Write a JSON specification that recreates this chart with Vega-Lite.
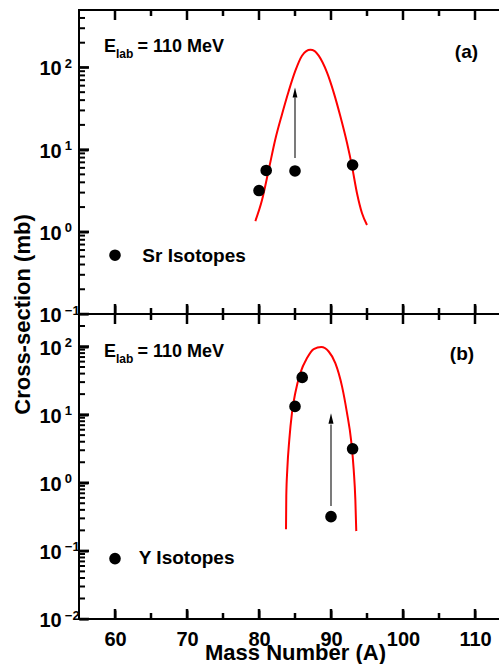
{
  "$schema": "https://vega.github.io/schema/vega-lite/v6.json",
  "padding": {"left": 10, "top": 9, "right": 0, "bottom": 0},
  "spacing": 0,
  "bounds": "flush",
  "config": {
    "font": "Liberation Sans",
    "view": {"stroke": "black", "strokeWidth": 2},
    "axis": {
      "labelFont": "Liberation Sans", "labelFontWeight": "bold", "labelColor": "black", "labelFontSize": 20,
      "titleFont": "Liberation Sans", "titleFontWeight": "bold", "titleColor": "black", "titleFontSize": 22,
      "tickColor": "#000000", "tickWidth": 2, "domain": false, "grid": false,
      "labelOverlap": false, "labelFlush": false
    }
  },
  "datasets": {
    "xMaj": [{"A": 60}, {"A": 70}, {"A": 80}, {"A": 90}, {"A": 100}, {"A": 110}],
    "xMin": [{"A": 65}, {"A": 75}, {"A": 85}, {"A": 95}, {"A": 105}],
    "topMaj": [{"s": 0.1}, {"s": 1}, {"s": 10}, {"s": 100}],
    "topMin": [{"s": 0.2}, {"s": 0.3}, {"s": 0.4}, {"s": 0.5}, {"s": 0.6}, {"s": 0.7}, {"s": 0.8}, {"s": 0.9},
               {"s": 2}, {"s": 3}, {"s": 4}, {"s": 5}, {"s": 6}, {"s": 7}, {"s": 8}, {"s": 9},
               {"s": 20}, {"s": 30}, {"s": 40}, {"s": 50}, {"s": 60}, {"s": 70}, {"s": 80}, {"s": 90},
               {"s": 200}, {"s": 300}, {"s": 400}],
    "botMaj": [{"s": 0.01}, {"s": 0.1}, {"s": 1}, {"s": 10}, {"s": 100}],
    "botMin": [{"s": 0.02}, {"s": 0.03}, {"s": 0.04}, {"s": 0.05}, {"s": 0.06}, {"s": 0.07}, {"s": 0.08}, {"s": 0.09},
               {"s": 0.2}, {"s": 0.3}, {"s": 0.4}, {"s": 0.5}, {"s": 0.6}, {"s": 0.7}, {"s": 0.8}, {"s": 0.9},
               {"s": 2}, {"s": 3}, {"s": 4}, {"s": 5}, {"s": 6}, {"s": 7}, {"s": 8}, {"s": 9},
               {"s": 20}, {"s": 30}, {"s": 40}, {"s": 50}, {"s": 60}, {"s": 70}, {"s": 80}, {"s": 90},
               {"s": 200}],
    "srCurve": [
      {"A": 79.49, "s": 1.35}, {"A": 80.42, "s": 2.44}, {"A": 81.35, "s": 5.69}, {"A": 82.26, "s": 13.3},
      {"A": 83.19, "s": 26.8}, {"A": 84.13, "s": 51.7}, {"A": 85.04, "s": 90.8}, {"A": 85.97, "s": 139},
      {"A": 86.57, "s": 158}, {"A": 87.13, "s": 164}, {"A": 87.74, "s": 158}, {"A": 88.29, "s": 139},
      {"A": 89.44, "s": 86.9}, {"A": 90.38, "s": 49.4}, {"A": 91.29, "s": 25.6}, {"A": 92.22, "s": 12.1},
      {"A": 92.92, "s": 6.25}, {"A": 93.61, "s": 2.95}, {"A": 94.31, "s": 1.68}, {"A": 95.0, "s": 1.21}
    ],
    "srPoints": [{"A": 80, "s": 3.18}, {"A": 81, "s": 5.58}, {"A": 85, "s": 5.5}, {"A": 93, "s": 6.5}],
    "srArrow": [{"A": 85, "s1": 7.9, "s2": 43, "head": 49.4}],
    "srElab": [{"A": 58.47, "s": 152.7, "e": "E", "sub": "lab", "rest": "= 110 MeV"}],
    "srLabels": [{"A": 107.2, "s": 130, "label": "(a)"}, {"A": 63.8, "s": 0.429, "label": "Sr Isotopes"}],
    "srLegend": [{"A": 60, "s": 0.519}],
    "yCurve": [
      {"A": 83.75, "s": 0.207}, {"A": 83.79, "s": 0.637}, {"A": 83.93, "s": 1.57}, {"A": 84.21, "s": 4.3},
      {"A": 84.58, "s": 10.6}, {"A": 85.04, "s": 20.8}, {"A": 85.74, "s": 40.8}, {"A": 86.67, "s": 67.6},
      {"A": 87.6, "s": 91.6}, {"A": 88.65, "s": 98}, {"A": 89.68, "s": 84.5}, {"A": 90.6, "s": 57.1},
      {"A": 91.53, "s": 26}, {"A": 92.22, "s": 10.6}, {"A": 92.78, "s": 4.3}, {"A": 93.15, "s": 1.57},
      {"A": 93.38, "s": 0.57}, {"A": 93.51, "s": 0.195}
    ],
    "yPoints": [{"A": 85, "s": 13.2}, {"A": 86, "s": 35.2}, {"A": 93, "s": 3.15}, {"A": 90, "s": 0.318}],
    "yArrow": [{"A": 90, "s1": 0.454, "s2": 7.14, "head": 8.74}],
    "yElab": [{"A": 58.47, "s": 70, "e": "E", "sub": "lab", "rest": "= 110 MeV"}],
    "yLabels": [{"A": 106.5, "s": 63.9, "label": "(b)"}, {"A": 63.3, "s": 0.0637, "label": "Y Isotopes"}],
    "yLegend": [{"A": 60, "s": 0.077}]
  },
  "vconcat": [
    {
      "width": 432, "height": 304,
      "resolve": {"axis": {"x": "independent", "y": "independent"}},
      "layer": [
        {"data": {"name": "xMaj"}, "mark": {"type": "tick", "orient": "vertical", "size": 10, "thickness": 2.5, "color": "#000000", "opacity": 1, "yOffset": -5},
          "encoding": {"x": {"field": "A", "type": "quantitative", "scale": {"type": "linear", "domain": [55, 115], "nice": false, "zero": false}, "axis": null},
                       "y": {"datum": 0.1, "type": "quantitative", "scale": {"type": "log", "domain": [0.1, 500], "nice": false}, "axis": null}}},
        {"data": {"name": "xMaj"}, "mark": {"type": "tick", "orient": "vertical", "size": 10, "thickness": 2.5, "color": "#000000", "opacity": 1, "yOffset": 5},
          "encoding": {"x": {"field": "A", "type": "quantitative", "axis": null}, "y": {"datum": 500, "type": "quantitative", "axis": null}}},
        {"data": {"name": "xMin"}, "mark": {"type": "tick", "orient": "vertical", "size": 6, "thickness": 2.5, "color": "#000000", "opacity": 1, "yOffset": -3},
          "encoding": {"x": {"field": "A", "type": "quantitative", "axis": null}, "y": {"datum": 0.1, "type": "quantitative", "axis": null}}},
        {"data": {"name": "xMin"}, "mark": {"type": "tick", "orient": "vertical", "size": 6, "thickness": 2.5, "color": "#000000", "opacity": 1, "yOffset": 3},
          "encoding": {"x": {"field": "A", "type": "quantitative", "axis": null}, "y": {"datum": 500, "type": "quantitative", "axis": null}}},
        {"data": {"name": "topMaj"}, "mark": {"type": "tick", "orient": "horizontal", "size": 10, "thickness": 2.5, "color": "#000000", "opacity": 1, "xOffset": 5},
          "encoding": {"y": {"field": "s", "type": "quantitative", "axis": null}, "x": {"datum": 55, "type": "quantitative", "axis": null}}},
        {"data": {"name": "topMin"}, "mark": {"type": "tick", "orient": "horizontal", "size": 6, "thickness": 2, "color": "#000000", "opacity": 1, "xOffset": 3},
          "encoding": {"y": {"field": "s", "type": "quantitative", "axis": null}, "x": {"datum": 55, "type": "quantitative", "axis": null}}},
        {
          "data": {"name": "srCurve"},
          "mark": {"type": "line", "color": "#ff0000", "strokeWidth": 2, "interpolate": "monotone"},
          "encoding": {
            "x": {"field": "A", "type": "quantitative",
              "axis": {"orient": "bottom", "values": [60,70,80,90,100,110], "labels": false, "title": null, "tickSize": 9, "offset": -9}},
            "y": {"field": "s", "type": "quantitative",
              "axis": {"orient": "left", "values": [0.1, 1, 10, 100], "tickSize": 9, "offset": -9,
                "labelExpr": "'10'", "labelAlign": "left", "labelBaseline": "middle", "labelPadding": 40, "labelOffset": 1.5,
                "title": "Cross-section (mb)", "titleX": -58.7, "titleY": 304, "titleAlign": "center", "titleAngle": -90, "titleBaseline": "alphabetic"}}
          }
        },
        {
          "data": {"name": "srPoints"},
          "mark": {"type": "point", "filled": true, "color": "black", "opacity": 1, "size": 135},
          "encoding": {
            "x": {"field": "A", "type": "quantitative", "axis": null},
            "y": {"field": "s", "type": "quantitative",
              "axis": {"orient": "left", "values": [0.1, 1, 10, 100], "ticks": false, "tickSize": 0,
                "labelExpr": "format(round(log(datum.value)/LN10), 'd')", "labelFontSize": 13,
                "labelAlign": "left", "labelBaseline": "middle", "labelPadding": 14.7, "labelOffset": -4, "title": null}}
          }
        },
        {
          "data": {"name": "srArrow"},
          "mark": {"type": "rule", "color": "#333333", "strokeWidth": 1.3},
          "encoding": {
            "x": {"field": "A", "type": "quantitative", "axis": null},
            "y": {"field": "s1", "type": "quantitative", "axis": null},
            "y2": {"field": "s2"}
          }
        },
        {
          "data": {"name": "srArrow"},
          "mark": {"type": "point", "shape": "M0,-1L0.48,1L-0.48,1Z", "filled": true, "color": "black", "opacity": 1, "size": 100},
          "encoding": {
            "x": {"field": "A", "type": "quantitative", "axis": null},
            "y": {"field": "head", "type": "quantitative", "axis": null}
          }
        },
        {
          "data": {"name": "srLegend"},
          "mark": {"type": "point", "filled": true, "color": "black", "opacity": 1, "size": 135},
          "encoding": {
            "x": {"field": "A", "type": "quantitative", "axis": null},
            "y": {"field": "s", "type": "quantitative", "axis": null}
          }
        },
        {
          "data": {"name": "srLabels"},
          "mark": {"type": "text", "align": "left", "baseline": "alphabetic", "fontSize": 19, "fontWeight": "bold", "color": "black"},
          "encoding": {
            "x": {"field": "A", "type": "quantitative", "axis": null},
            "y": {"field": "s", "type": "quantitative", "axis": null},
            "text": {"field": "label"}
          }
        },
        {
          "data": {"name": "srElab"},
          "mark": {"type": "text", "align": "left", "baseline": "alphabetic", "fontSize": 18, "fontWeight": "bold", "color": "black"},
          "encoding": {
            "x": {"field": "A", "type": "quantitative", "axis": null},
            "y": {"field": "s", "type": "quantitative", "axis": null},
            "text": {"field": "e"}
          }
        },
        {
          "data": {"name": "srElab"},
          "mark": {"type": "text", "align": "left", "baseline": "alphabetic", "fontSize": 12, "fontWeight": "bold", "color": "black", "dx": 12, "dy": 6},
          "encoding": {
            "x": {"field": "A", "type": "quantitative", "axis": null},
            "y": {"field": "s", "type": "quantitative", "axis": null},
            "text": {"field": "sub"}
          }
        },
        {
          "data": {"name": "srElab"},
          "mark": {"type": "text", "align": "left", "baseline": "alphabetic", "fontSize": 18, "fontWeight": "bold", "color": "black", "dx": 33.5},
          "encoding": {
            "x": {"field": "A", "type": "quantitative", "axis": null},
            "y": {"field": "s", "type": "quantitative", "axis": null},
            "text": {"field": "rest"}
          }
        }
      ]
    },
    {
      "width": 432, "height": 305,
      "resolve": {"axis": {"x": "independent", "y": "independent"}},
      "layer": [
        {"data": {"name": "xMaj"}, "mark": {"type": "tick", "orient": "vertical", "size": 10, "thickness": 2.5, "color": "#000000", "opacity": 1, "yOffset": -5},
          "encoding": {"x": {"field": "A", "type": "quantitative", "scale": {"type": "linear", "domain": [55, 115], "nice": false, "zero": false}, "axis": null},
                       "y": {"datum": 0.01, "type": "quantitative", "scale": {"type": "log", "domain": [0.01, 300], "nice": false}, "axis": null}}},
        {"data": {"name": "xMaj"}, "mark": {"type": "tick", "orient": "vertical", "size": 10, "thickness": 2.5, "color": "#000000", "opacity": 1, "yOffset": 5},
          "encoding": {"x": {"field": "A", "type": "quantitative", "axis": null}, "y": {"datum": 300, "type": "quantitative", "axis": null}}},
        {"data": {"name": "xMin"}, "mark": {"type": "tick", "orient": "vertical", "size": 6, "thickness": 2.5, "color": "#000000", "opacity": 1, "yOffset": -3},
          "encoding": {"x": {"field": "A", "type": "quantitative", "axis": null}, "y": {"datum": 0.01, "type": "quantitative", "axis": null}}},
        {"data": {"name": "xMin"}, "mark": {"type": "tick", "orient": "vertical", "size": 6, "thickness": 2.5, "color": "#000000", "opacity": 1, "yOffset": 3},
          "encoding": {"x": {"field": "A", "type": "quantitative", "axis": null}, "y": {"datum": 300, "type": "quantitative", "axis": null}}},
        {"data": {"name": "botMaj"}, "mark": {"type": "tick", "orient": "horizontal", "size": 10, "thickness": 2.5, "color": "#000000", "opacity": 1, "xOffset": 5},
          "encoding": {"y": {"field": "s", "type": "quantitative", "axis": null}, "x": {"datum": 55, "type": "quantitative", "axis": null}}},
        {"data": {"name": "botMin"}, "mark": {"type": "tick", "orient": "horizontal", "size": 6, "thickness": 2, "color": "#000000", "opacity": 1, "xOffset": 3},
          "encoding": {"y": {"field": "s", "type": "quantitative", "axis": null}, "x": {"datum": 55, "type": "quantitative", "axis": null}}},
        {
          "data": {"name": "yCurve"},
          "mark": {"type": "line", "color": "#ff0000", "strokeWidth": 2, "interpolate": "monotone"},
          "encoding": {
            "x": {"field": "A", "type": "quantitative",
              "axis": {"orient": "bottom", "values": [60,70,80,90,100,110], "tickSize": 9, "offset": -9, "labelPadding": 10,
                "title": "Mass Number (A)", "titleY": 32, "titleBaseline": "top"}},
            "y": {"field": "s", "type": "quantitative",
              "axis": {"orient": "left", "values": [0.01, 0.1, 1, 10, 100], "tickSize": 9, "offset": -9,
                "labelExpr": "'10'", "labelAlign": "left", "labelBaseline": "middle", "labelPadding": 40, "labelOffset": 1.5,
                "title": null}}
          }
        },
        {
          "data": {"name": "yPoints"},
          "mark": {"type": "point", "filled": true, "color": "black", "opacity": 1, "size": 135},
          "encoding": {
            "x": {"field": "A", "type": "quantitative", "axis": null},
            "y": {"field": "s", "type": "quantitative",
              "axis": {"orient": "left", "values": [0.01, 0.1, 1, 10, 100], "ticks": false, "tickSize": 0,
                "labelExpr": "format(round(log(datum.value)/LN10), 'd')", "labelFontSize": 13,
                "labelAlign": "left", "labelBaseline": "middle", "labelPadding": 14.7, "labelOffset": -4, "title": null}}
          }
        },
        {
          "data": {"name": "yArrow"},
          "mark": {"type": "rule", "color": "#333333", "strokeWidth": 1.3},
          "encoding": {
            "x": {"field": "A", "type": "quantitative", "axis": null},
            "y": {"field": "s1", "type": "quantitative", "axis": null},
            "y2": {"field": "s2"}
          }
        },
        {
          "data": {"name": "yArrow"},
          "mark": {"type": "point", "shape": "M0,-1L0.48,1L-0.48,1Z", "filled": true, "color": "black", "opacity": 1, "size": 110},
          "encoding": {
            "x": {"field": "A", "type": "quantitative", "axis": null},
            "y": {"field": "head", "type": "quantitative", "axis": null}
          }
        },
        {
          "data": {"name": "yLegend"},
          "mark": {"type": "point", "filled": true, "color": "black", "opacity": 1, "size": 135},
          "encoding": {
            "x": {"field": "A", "type": "quantitative", "axis": null},
            "y": {"field": "s", "type": "quantitative", "axis": null}
          }
        },
        {
          "data": {"name": "yLabels"},
          "mark": {"type": "text", "align": "left", "baseline": "alphabetic", "fontSize": 19, "fontWeight": "bold", "color": "black"},
          "encoding": {
            "x": {"field": "A", "type": "quantitative", "axis": null},
            "y": {"field": "s", "type": "quantitative", "axis": null},
            "text": {"field": "label"}
          }
        },
        {
          "data": {"name": "yElab"},
          "mark": {"type": "text", "align": "left", "baseline": "alphabetic", "fontSize": 18, "fontWeight": "bold", "color": "black"},
          "encoding": {
            "x": {"field": "A", "type": "quantitative", "axis": null},
            "y": {"field": "s", "type": "quantitative", "axis": null},
            "text": {"field": "e"}
          }
        },
        {
          "data": {"name": "yElab"},
          "mark": {"type": "text", "align": "left", "baseline": "alphabetic", "fontSize": 12, "fontWeight": "bold", "color": "black", "dx": 12, "dy": 6},
          "encoding": {
            "x": {"field": "A", "type": "quantitative", "axis": null},
            "y": {"field": "s", "type": "quantitative", "axis": null},
            "text": {"field": "sub"}
          }
        },
        {
          "data": {"name": "yElab"},
          "mark": {"type": "text", "align": "left", "baseline": "alphabetic", "fontSize": 18, "fontWeight": "bold", "color": "black", "dx": 33.5},
          "encoding": {
            "x": {"field": "A", "type": "quantitative", "axis": null},
            "y": {"field": "s", "type": "quantitative", "axis": null},
            "text": {"field": "rest"}
          }
        }
      ]
    }
  ]
}
